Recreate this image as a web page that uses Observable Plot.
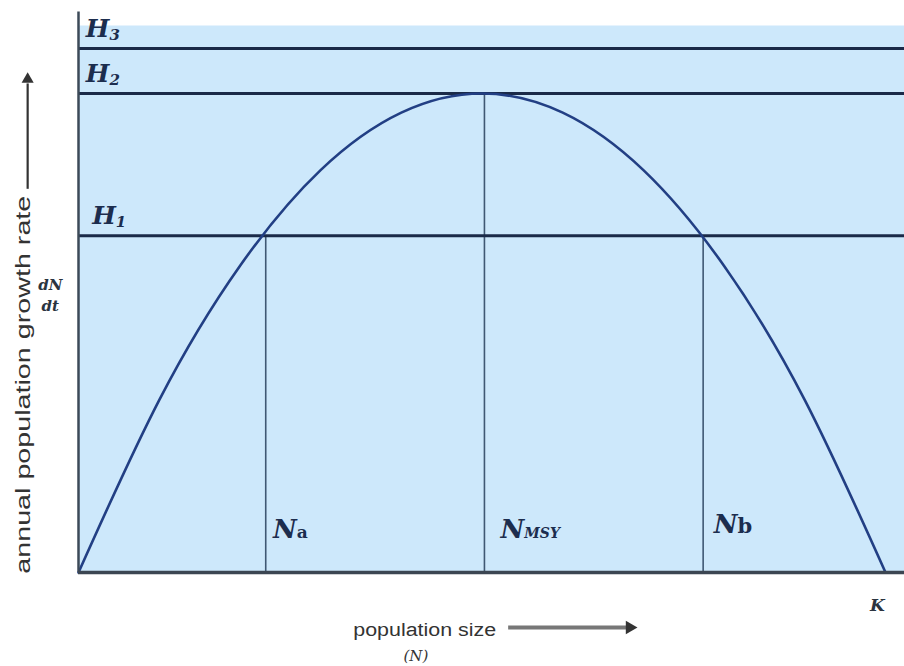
<!DOCTYPE html>
<html>
<head>
<meta charset="utf-8">
<script src="https://cdn.jsdelivr.net/npm/d3@7"></script>
<script src="https://cdn.jsdelivr.net/npm/@observablehq/plot@0.6"></script>
<style>
  html, body { margin: 0; padding: 0; background: #ffffff; }
  #chart svg { display: block; overflow: visible; }
</style>
</head>
<body>
<div id="chart"></div>
<script>
// Population size N (0..K, K = 100) and growth rate dN/dt (relative to max = 1)
const curveN = [0, 10, 20, 30, 40, 50, 60, 70, 80, 90, 100];
const curveRate = [0, 0.36, 0.64, 0.84, 0.96, 1.0, 0.96, 0.84, 0.64, 0.36, 0];

// Harvest levels
const harvestNames = ["H|1", "H|2", "H|3"];
const harvestLevels = [0.703, 1.0, 1.094];

// Equilibrium population sizes
const eqNames = ["N|a", "N|MSY", "N|b"];
const eqN = [23.2, 50.3, 77.4];
const eqRate = [0.703, 1.0, 0.703];

const xMax = 102.35;
const yMax = 1.142;

const curve = curveN.map((n, i) => ({n, r: curveRate[i]}));
const harvest = harvestNames.map((name, i) => ({name, h: harvestLevels[i]}));
const eq = eqNames.map((name, i) => ({name, n: eqN[i], r: eqRate[i]}));

const hLabels = [
  {t: "H|3", x: 0.9, y: 1.135},
  {t: "H|2", x: 0.9, y: 1.040},
  {t: "H|1", x: 1.7, y: 0.745}
];
const nLabels = [
  {t: "N|a", x: 24.1, y: 0.09},
  {t: "N|MSY", x: 52.3, y: 0.09},
  {t: "N|b", x: 78.7, y: 0.10}
];

const serif = "'DejaVu Serif', 'Liberation Serif', serif";
const sans = "'Liberation Sans', Arial, sans-serif";
const ink = "#2b3440";

const plot = Plot.plot({
  width: 904,
  height: 666,
  marginLeft: 78,
  marginRight: 0,
  marginTop: 25,
  marginBottom: 94,
  x: {domain: [0, xMax], axis: null},
  y: {domain: [0, yMax], axis: null},
  style: {background: "transparent", overflow: "visible"},
  marks: [
    Plot.frame({fill: "#cde8fb", stroke: "none"}),
    // vertical equilibrium lines
    Plot.ruleX(eq, {x: "n", y1: 0, y2: "r", stroke: "#3f5873", strokeWidth: 1.6}),
    // harvest lines
    Plot.ruleY(harvest, {y: "h", stroke: "#1a2a48", strokeWidth: 3}),
    // growth curve
    Plot.line(curve, {x: "n", y: "r", curve: "natural", stroke: "#223f84", strokeWidth: 2.6}),
    // axes lines
    Plot.ruleX([0], {y1: 0, y2: 1.17, stroke: "#3c4a58", strokeWidth: 2.5}),
    Plot.ruleY([0], {stroke: "#3c4652", strokeWidth: 3.5}),
    // H labels
    Plot.text(hLabels, {x: "x", y: "y", text: "t", textAnchor: "start", lineAnchor: "middle",
      fontFamily: serif, fontWeight: "bold", fontStyle: "italic", fontSize: 25, fill: "#1c2d4e"}),
    // N labels
    Plot.text(nLabels, {x: "x", y: "y", text: "t", textAnchor: "start", lineAnchor: "middle",
      fontFamily: serif, fontWeight: "bold", fontStyle: "italic", fontSize: 26, fill: "#1c2d4e"}),
    // K
    Plot.text(["K"], {x: 99.0, y: -0.069, text: d => d, fontFamily: serif, fontWeight: "bold",
      fontStyle: "italic", fontSize: 17, fill: ink}),
    // dN/dt
    Plot.text(["dN", "dt"], {x: -3.5, y: (d, i) => i === 0 ? 0.60 : 0.555, text: d => d,
      fontFamily: serif, fontWeight: "bold", fontStyle: "italic", fontSize: 15, fill: ink}),
    // y-axis label and arrow
    Plot.text(["annual population growth rate"], {x: -6.9, y: 0.392, text: d => d, rotate: -90,
      fontFamily: sans, fontSize: 21, fill: "#333"}),
    Plot.ruleX([-6.3], {y1: 0.80, y2: 1.02, stroke: "#333", strokeWidth: 2.2}),
    Plot.dot([0], {x: -6.3, y: 1.03, symbol: "triangle", r: 4.5, fill: "#333", stroke: "none"}),
    // x-axis label and arrow
    Plot.text(["population size"], {x: 42.9, y: -0.121, text: d => d,
      fontFamily: sans, fontSize: 18, fill: "#333"}),
    Plot.text(["(N)"], {x: 41.8, y: -0.175, text: d => d,
      fontFamily: serif, fontStyle: "italic", fontSize: 15, fill: "#333"}),
    Plot.ruleY([-0.115], {x1: 53.3, x2: 68.0, stroke: "#777", strokeWidth: 4}),
    Plot.dot([0], {x: 68.3, y: -0.115, symbol: "triangle", rotate: 90, r: 5, fill: "#333", stroke: "none"})
  ]
});

// Turn "Base|sub" into base text with a subscript tspan
plot.querySelectorAll("text").forEach(t => {
  const s = t.textContent;
  if (s.includes("|")) {
    const [base, sub] = s.split("|");
    t.textContent = "";
    const a = document.createElementNS("http://www.w3.org/2000/svg", "tspan");
    a.textContent = base;
    t.appendChild(a);
    const b = document.createElementNS("http://www.w3.org/2000/svg", "tspan");
    b.textContent = sub;
    let size = 14, dy = "0.15em";
    if (sub === "MSY") { size = 14; dy = "0"; }
    if (sub === "a") { size = 17; dy = "0"; b.setAttribute("font-style", "normal"); }
    if (sub === "b") { size = 21; dy = "0"; b.setAttribute("font-style", "normal"); }
    if (/^[0-9]$/.test(sub)) { size = 15; dy = "0.2em"; }
    b.setAttribute("font-size", size);
    b.setAttribute("dy", dy);
    t.appendChild(b);
  }
  if (s === "annual population growth rate") {
    t.setAttribute("textLength", 378);
    t.setAttribute("lengthAdjust", "spacingAndGlyphs");
  }
  if (s === "population size") {
    t.setAttribute("textLength", 143);
    t.setAttribute("lengthAdjust", "spacingAndGlyphs");
  }
});

document.getElementById("chart").appendChild(plot);
</script>
</body>
</html>
